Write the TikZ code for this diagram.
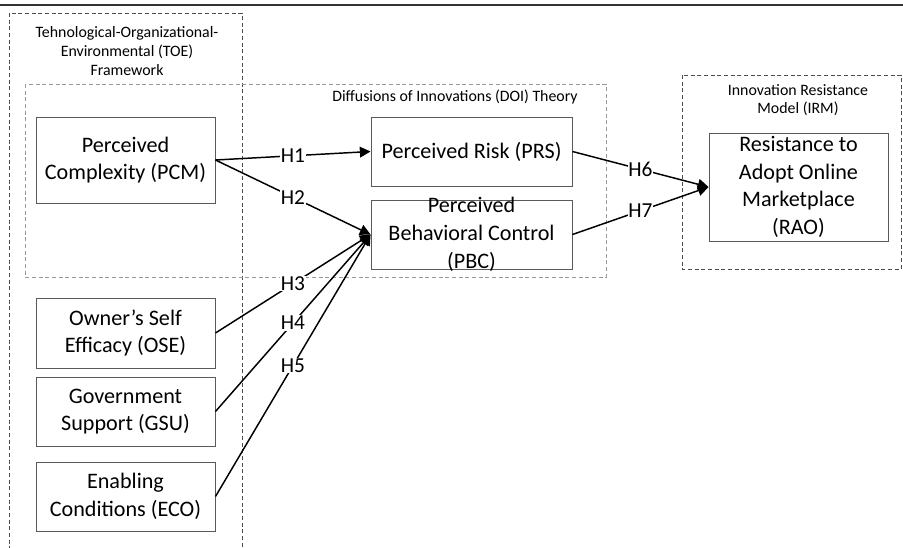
\documentclass[tikz,border=0pt]{standalone}
\usepackage{fontspec}
\setmainfont{Carlito}
\usetikzlibrary{arrows.meta}

\tikzset{
	construct/.style={draw=black!65, line width=0.7pt, align=center, minimum width=134.25pt,
		font=\fontsize{16.6}{20.8}\selectfont, inner sep=1pt},
	framebox/.style={dashed, dash pattern=on 3pt off 2pt, line width=0.7pt},
	frametitle/.style={align=center, font=\fontsize{11.9}{14}\selectfont, inner sep=0pt},
	hyp/.style={-{Triangle[length=8pt,width=8pt]}, line width=1.1pt},
	hlabel/.style={fill=white, inner sep=0.5pt, font=\fontsize{16}{18}\selectfont}
}

\begin{document}
\begin{tikzpicture}[x=0.75pt, y=-0.75pt]
	\useasboundingbox (0,0) rectangle (903,547);
	\clip (0,0) rectangle (903,547);

	%Top rule
	\draw [line width=1.1pt, black!80] (0,5) -- (903,5);

	%Frameworks
	\draw [framebox, black!70] (9,13) rectangle (242,570);
	\draw [framebox, black!40] (25,84) rectangle (606,277);
	\draw [framebox, black!70] (682,75) rectangle (901,269);
	\node [frametitle] (toetitle) at (127,51) {Tehnological-Organizational-\\Environmental (TOE)\\Framework};
	\node [frametitle, anchor=east] (doititle) at (578,97) {Diffusions of Innovations (DOI) Theory};
	\node [frametitle] (irmtitle) at (798,100) {Innovation Resistance\\Model (IRM)};

	%Constructs
	\node [construct, minimum height=64.5pt] (pcm) at (125.5,160) {Perceived\\Complexity (PCM)};
	\node [construct, minimum width=150.75pt, minimum height=51.75pt] (prs) at (471.5,151.5) {Perceived Risk (PRS)};
	\node [construct, minimum width=150.75pt, minimum height=51.75pt, inner ysep=-10pt] (pbc) at (471.5,234.5) {Perceived\\Behavioral Control\\(PBC)};
	\node [construct, minimum height=81pt] (rao) at (798.5,187) {Resistance to\\Adopt Online\\Marketplace\\(RAO)};
	\node [construct, minimum height=52.5pt] (ose) at (125.5,333) {Owner's Self\\Efficacy (OSE)};
	\node [construct, minimum height=51.75pt] (gsu) at (125.5,411.5) {Government\\Support (GSU)};
	\node [construct, minimum height=51.75pt] (eco) at (125.5,496.5) {Enabling\\Conditions (ECO)};

	%Hypotheses
	\draw [hyp] (pcm.east) -- node [hlabel] {H1} (prs.west);
	\draw [hyp] (pcm.east) -- node [hlabel] {H2} (pbc.west);
	\draw [hyp] (ose.east) -- node [hlabel] {H3} (pbc.west);
	\draw [hyp] (gsu.east) -- node [hlabel] {H4} (pbc.west);
	\draw [hyp] (eco.east) -- node [hlabel] {H5} (pbc.west);
	\draw [hyp] (prs.east) -- node [hlabel] {H6} (rao.west);
	\draw [hyp] (pbc.east) -- node [hlabel] {H7} (rao.west);
\end{tikzpicture}
\end{document}
